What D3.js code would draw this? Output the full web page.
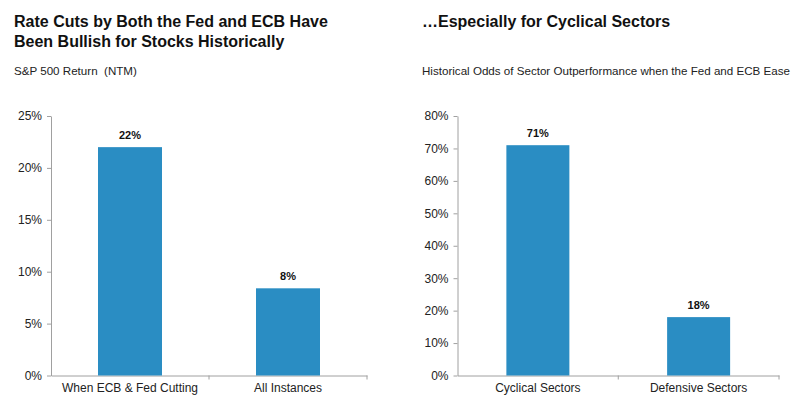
<!DOCTYPE html>
<html><head><meta charset="utf-8">
<script src="https://cdn.jsdelivr.net/npm/d3@7"></script>
<style>body{margin:0;background:#fff}svg{display:block;font-family:"Liberation Sans",Arial,sans-serif}</style>
</head><body><svg id="c" width="800" height="411"></svg>
<script>
const leftCategories = ["When ECB & Fed Cutting", "All Instances"];
const leftValues = [22, 8.4];
const leftLabels = ["22%", "8%"];
const leftTicks = [0, 5, 10, 15, 20, 25];
const rightCategories = ["Cyclical Sectors", "Defensive Sectors"];
const rightValues = [71, 18];
const rightLabels = ["71%", "18%"];
const rightTicks = [0, 10, 20, 30, 40, 50, 60, 70, 80];

const svg = d3.select("#c");
const barColor = "#2a8dc3";
const axisColor = "#a0a0a0";

function panel(opt) {
  const g = svg.append("g");
  g.append("text").attr("x", opt.tx).attr("y", opt.ty).attr("font-size", 16).attr("font-weight", "bold").attr("fill", "#111")
    .selectAll("tspan").data(opt.title).join("tspan").attr("x", opt.tx).attr("dy", (d, i) => i ? 20 : 0).text(d => d);
  g.append("text").attr("x", opt.tx).attr("y", opt.sy).attr("font-size", 11.6).attr("fill", "#222")
    .style("white-space", "pre").text(opt.subtitle);
  const y = d3.scaleLinear().domain([0, opt.max]).range([opt.y0, opt.y1]);
  const x = d3.scaleBand().domain(opt.cats).range([opt.x0, opt.x1]).paddingInner(0.6).paddingOuter(0.3);
  const ya = g.append("g").attr("transform", `translate(${opt.x0},0)`)
    .call(d3.axisLeft(y).tickValues(opt.ticks).tickFormat(d => d + "%").tickSize(4).tickSizeOuter(0));
  ya.select(".domain").attr("stroke", axisColor);
  ya.selectAll(".tick line").attr("stroke", axisColor);
  ya.selectAll(".tick text").attr("font-size", 12).attr("fill", "#222").attr("font-family", "Liberation Sans, Arial, sans-serif").attr("x", -9);
  const xa = g.append("g").attr("transform", `translate(0,${opt.y0})`)
    .call(d3.axisBottom(x).tickSize(0).tickSizeOuter(0));
  xa.select(".domain").attr("stroke", axisColor);
  xa.selectAll(".tick text").attr("font-size", 12).attr("fill", "#222").attr("font-family", "Liberation Sans, Arial, sans-serif").attr("dy", "1.1em");
  const step = (opt.x1 - opt.x0) / opt.cats.length;
  g.selectAll(".sep").data(d3.range(1, opt.cats.length + 1)).join("line")
    .attr("x1", i => opt.x0 + i * step).attr("x2", i => opt.x0 + i * step)
    .attr("y1", opt.y0).attr("y2", opt.y0 + 4).attr("stroke", axisColor);
  const xb = d3.scaleBand().domain(opt.cats).range([opt.x0, opt.x1]);
  const bw = opt.bw;
  g.selectAll("rect").data(opt.vals).join("rect")
    .attr("x", (d, i) => xb(opt.cats[i]) + xb.bandwidth() / 2 - bw / 2)
    .attr("width", bw).attr("y", d => y(d)).attr("height", d => y(0) - y(d)).attr("fill", barColor);
  g.selectAll(".lbl").data(opt.vals).join("text")
    .attr("x", (d, i) => xb(opt.cats[i]) + xb.bandwidth() / 2).attr("y", d => y(d) - 8)
    .attr("text-anchor", "middle").attr("font-size", 11).attr("font-weight", "bold").attr("fill", "#111")
    .text((d, i) => opt.labels[i]);
}

panel({title: ["Rate Cuts by Both the Fed and ECB Have", "Been Bullish for Stocks Historically"], tx: 14, ty: 27,
  subtitle: "S&P 500 Return  (NTM)", sy: 75,
  cats: leftCategories, vals: leftValues, labels: leftLabels, ticks: leftTicks, max: 25,
  x0: 51, x1: 367, y0: 375.5, y1: 116, bw: 64});
panel({title: ["\u2026Especially for Cyclical Sectors"], tx: 422, ty: 27,
  subtitle: "Historical Odds of Sector Outperformance when the Fed and ECB Ease", sy: 75,
  cats: rightCategories, vals: rightValues, labels: rightLabels, ticks: rightTicks, max: 80,
  x0: 457.5, x1: 779, y0: 375.5, y1: 116, bw: 63});
</script></body></html>
